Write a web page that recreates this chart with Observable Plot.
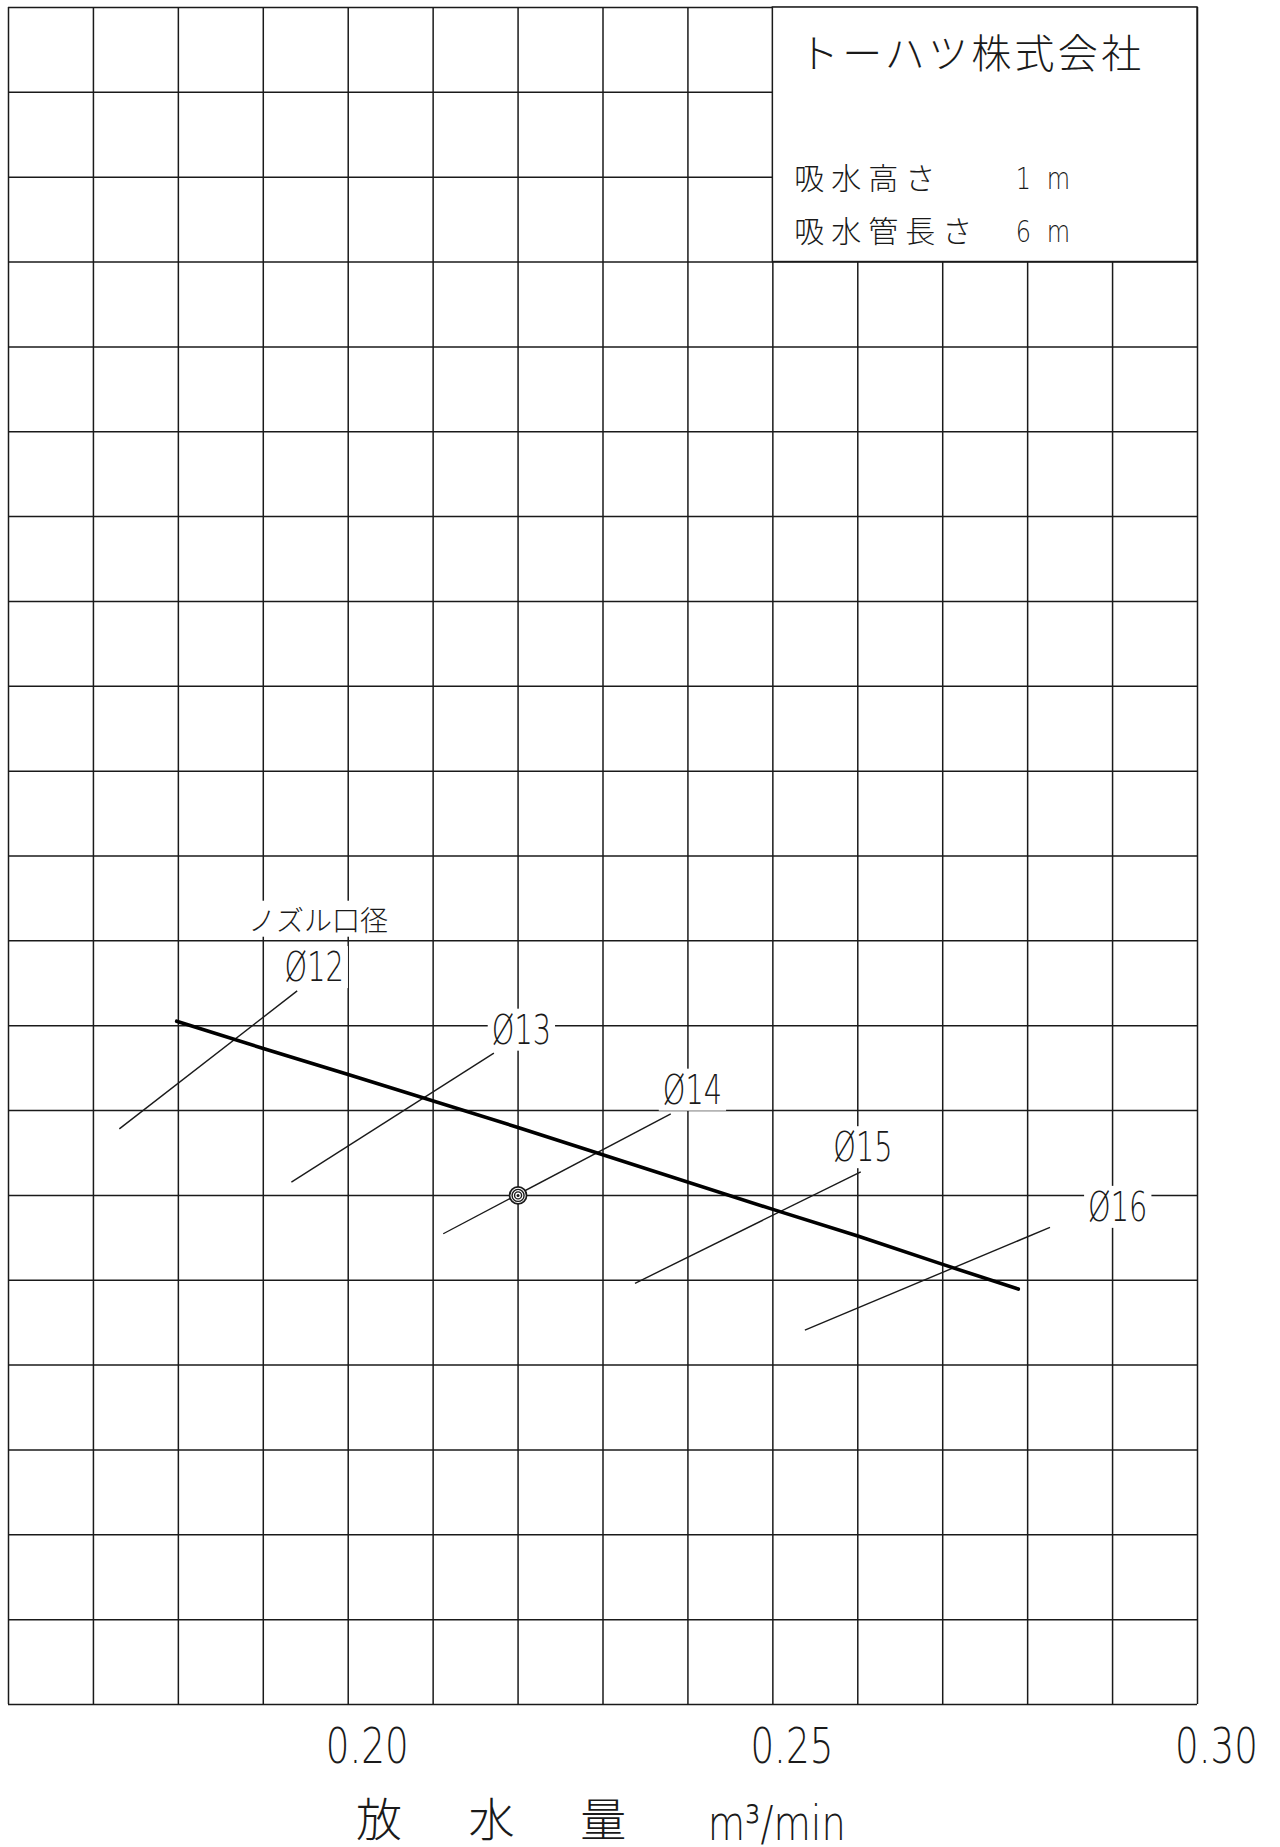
<!DOCTYPE html>
<html><head><meta charset="utf-8">
<script src="https://cdn.jsdelivr.net/npm/d3@7"></script>
<script src="https://cdn.jsdelivr.net/npm/@observablehq/plot@0.6"></script>
<style>
html,body{margin:0;padding:0;background:#fff;overflow:hidden}
svg{display:block}
</style>
</head><body><div id="chart"></div>
<script>
// grid (x: discharge m3/min, y: unlabeled grid units 0..20)
const xGrid = d3.range(16, 31).map(d => d / 100);
const yGrid = d3.range(0, 21);
const xTicks = [0.20, 0.25, 0.30];

// performance curve
const curveX = [0.1798, 0.19, 0.20, 0.22, 0.25, 0.26, 0.27, 0.2789];
const curveY = [8.053, 7.732, 7.425, 6.801, 5.835, 5.521, 5.187, 4.896];

// nozzle diameter leaders
const nozzles  = ["Ø12", "Ø13", "Ø14", "Ø15", "Ø16"];
const leaderX1 = [0.17305, 0.19331, 0.21119, 0.23377, 0.25377];
const leaderY1 = [6.784, 6.157, 5.548, 4.964, 4.413];
const leaderX2 = [0.19399, 0.21715, 0.23798, 0.26035, 0.28263];
const leaderY2 = [8.410, 7.676, 6.961, 6.278, 5.623];
const labelX   = [0.1960, 0.22039, 0.24053, 0.26061, 0.29061];
const labelY   = [8.724, 7.986, 7.279, 6.601, 5.898];

// rated point
const ratedX = [0.22];
const ratedY = [6];

// texts
const company = "トーハツ株式会社";
const nozzleTitle = "ノズル口径";
const infoLabels = ["吸水高さ", "吸水管長さ"];
const infoValues = ["1", "6"];
const infoUnit = "m";
const infoY = [17.972, 17.346];
const titleChars = ["放", "水", "量"];
const titleX = [0.20362, 0.21688, 0.23002];
const titleUnit = "m³/min";

const ink = "#1a1a1a";
const latin = "DejaVu Sans";
const cjk = "'Noto Sans CJK JP', 'Noto Sans CJK SC', sans-serif";

const leaders = nozzles.map((n, i) => ({n, x1: leaderX1[i], y1: leaderY1[i], x2: leaderX2[i], y2: leaderY2[i], lx: labelX[i], ly: labelY[i]}));
const curve = curveX.map((x, i) => ({x, y: curveY[i]}));
const rated = ratedX.map((x, i) => ({x, y: ratedY[i]}));

const chart = Plot.plot({
  width: 1280,
  height: 1847,
  marginLeft: 8,
  marginRight: 83,
  marginTop: 7,
  marginBottom: 143,
  style: {background: "white", fontFamily: latin},
  x: {domain: [0.16, 0.30], axis: null},
  y: {domain: [0, 20], axis: null},
  marks: [
    Plot.ruleX(xGrid, {stroke: ink, strokeWidth: 1.5}),
    Plot.ruleY(yGrid, {stroke: ink, strokeWidth: 1.5}),
    Plot.rect([{x1: 0.25, x2: 0.30, y1: 17, y2: 20}], {x1: "x1", x2: "x2", y1: "y1", y2: "y2", fill: "white", stroke: ink, strokeWidth: 1.5}),
    Plot.link(leaders, {x1: "x1", y1: "y1", x2: "x2", y2: "y2", stroke: ink, strokeWidth: 1.4}),
    Plot.line(curve, {x: "x", y: "y", stroke: "#000", strokeWidth: 3.6, strokeLinecap: "round"}),
    Plot.dot(rated, {x: "x", y: "y", r: 8.5, fill: "white", stroke: ink, strokeWidth: 1.7}),
    Plot.dot(rated, {x: "x", y: "y", r: 6, fill: "none", stroke: ink, strokeWidth: 1.4}),
    Plot.dot(rated, {x: "x", y: "y", r: 3.5, fill: "none", stroke: ink, strokeWidth: 1.4}),
    Plot.dot(rated, {x: "x", y: "y", r: 1.5, fill: ink}),
    Plot.text(leaders, {x: "lx", y: "ly", dy: 4, text: "n", fontSize: 40, fontFamily: latin, fontWeight: 200, fill: ink}),
    Plot.text([nozzleTitle], {x: 0.19644, y: 9.225, text: d => d, fontSize: 28, fontFamily: cjk, fontWeight: 300, fill: ink}),
    Plot.text([company], {x: 0.25306, y: 19.443, text: d => d, textAnchor: "start", fontSize: 40, fontFamily: cjk, fontWeight: 300, fill: ink}),
    Plot.text(infoLabels, {x: 0.25251, y: (d, i) => infoY[i], text: d => d, textAnchor: "start", fontSize: 30, fontFamily: cjk, fontWeight: 300, fill: ink}),
    Plot.text(infoValues, {x: 0.27951, y: (d, i) => infoY[i], text: d => d, fontSize: 30, fontFamily: latin, fontWeight: 200, fill: ink}),
    Plot.text(infoY, {x: 0.28364, y: d => d, text: () => infoUnit, fontSize: 30, fontFamily: latin, fontWeight: 200, fill: ink}),
    Plot.text(xTicks, {x: d => d, frameAnchor: "bottom", dy: 58, dx: 19, text: d3.format(".2f"), fontSize: 49, fontFamily: latin, fontWeight: 200, fill: ink}),
    Plot.text(titleChars, {x: (d, i) => titleX[i], frameAnchor: "bottom", dy: 131, text: d => d, fontSize: 46, fontFamily: cjk, fontWeight: 300, fill: ink}),
    Plot.text([titleUnit], {x: 0.24233, frameAnchor: "bottom", dy: 135, text: d => d, textAnchor: "start", fontSize: 48, fontFamily: latin, fontWeight: 200, fill: ink})
  ]
});
document.getElementById("chart").append(chart);

const hasCJK = s => /[\u3040-\u30ff\u3400-\u9fff]/.test(s);
const texts = Array.from(chart.querySelectorAll("text"));

// character spacing in the title block
texts.forEach(t => {
  const s = t.textContent;
  if (s === company) t.style.letterSpacing = "3.3px";
  else if (infoLabels.includes(s)) t.style.letterSpacing = "7px";
});

// condense Latin labels (CAD-style narrow font)
texts.forEach(t => {
  const s = t.textContent;
  if (hasCJK(s)) return;
  let k = 0.8;
  if (nozzles.includes(s)) k = 0.72;
  else if (/^0\.\d\d$/.test(s)) k = 0.76;
  const L = t.getComputedTextLength();
  t.setAttribute("textLength", L * k);
  t.setAttribute("lengthAdjust", "spacingAndGlyphs");
});

// white masks behind leader labels
texts.forEach(t => {
  const s = t.textContent;
  if (!(nozzles.includes(s) || s === nozzleTitle)) return;
  const b = t.getBBox();
  const r = document.createElementNS("http://www.w3.org/2000/svg", "rect");
  r.setAttribute("x", b.x - 4);
  r.setAttribute("y", b.y + 2);
  r.setAttribute("width", b.width + 8);
  r.setAttribute("height", b.height - 4);
  r.setAttribute("fill", "white");
  r.setAttribute("stroke", "none");
  const tr = t.getAttribute("transform");
  if (tr) r.setAttribute("transform", tr);
  t.parentNode.insertBefore(r, t);
});
</script>
</body></html>
